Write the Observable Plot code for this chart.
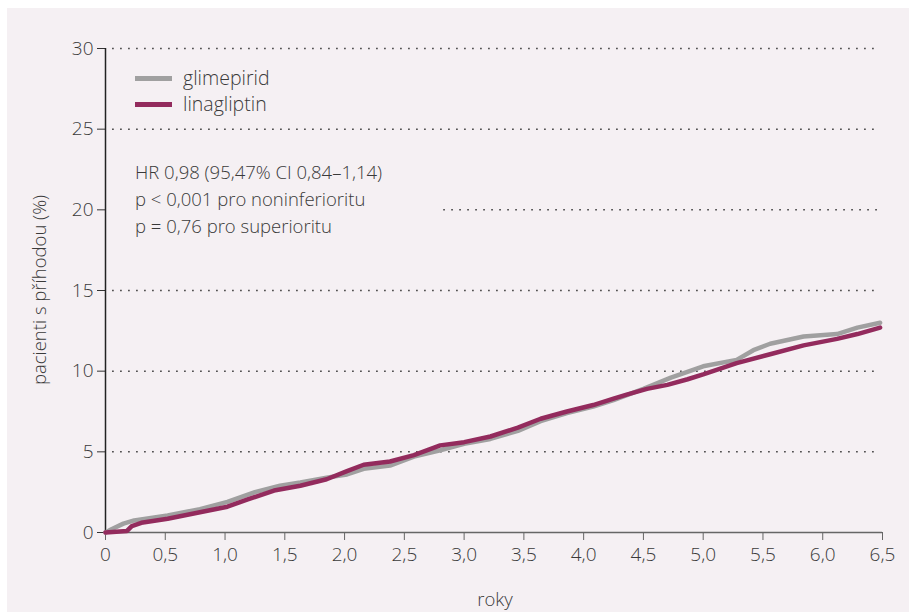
<!DOCTYPE html>
<html><head><meta charset="utf-8">
<script src="https://cdn.jsdelivr.net/npm/d3@7"></script>
<script src="https://cdn.jsdelivr.net/npm/@observablehq/plot@0.6"></script>
<style>
body{margin:0;background:#fff;font-family:"Open Sans",sans-serif;font-weight:300;color:#3a3a3a}
#wrap{position:relative;width:909px;height:612px;overflow:hidden}
#bg{position:absolute;left:7px;top:8px;right:0;bottom:0;background:#f5f0f3}
#chart{position:absolute;left:0;top:0}
.leg{position:absolute;left:135px;font-size:19.5px;line-height:26px;color:#3a3a3a}
.leg div{display:flex;align-items:center;height:26px}
.leg i{display:inline-block;width:37px;height:5px;margin-right:11px}
.ann{position:absolute;left:135px;top:158px;font-size:18.5px;line-height:27px;color:#3a3a3a}
.ylab{position:absolute;left:38px;top:290px;transform:translate(-50%,-50%) rotate(-90deg);font-size:18.5px;white-space:nowrap;color:#3a3a3a}
.xlab{position:absolute;left:495px;top:598px;transform:translate(-50%,-50%);font-size:18.5px;color:#3a3a3a}
</style></head>
<body>
<div id="wrap">
<div id="bg"></div>
<div id="chart"></div>
<div class="leg" style="top:65px">
 <div><i style="background:#a0a0a0"></i>glimepirid</div>
 <div><i style="background:#932b5d"></i>linagliptin</div>
</div>
<div class="ann">HR 0,98 (95,47% CI 0,84–1,14)<br>p &lt; 0,001 pro noninferioritu<br>p = 0,76 pro superioritu</div>
<div class="ylab">pacienti s příhodou (%)</div>
<div class="xlab">roky</div>
</div>
<script>
const xTicks = [0,0.5,1,1.5,2,2.5,3,3.5,4,4.5,5,5.5,6,6.5];
const yTicks = [0,5,10,15,20,25,30];
const gridY = [5,10,15,20,25,30];
const gridStart = [0.06,0.06,0.06,2.83,0.06,0.06];

const linaT = [0,0.18,0.22,0.3,0.52,0.79,1.02,1.19,1.41,1.63,1.85,2.02,2.16,2.38,2.58,2.8,3.0,3.22,3.45,3.64,3.86,4.08,4.25,4.36,4.53,4.7,4.87,5.0,5.28,5.56,5.84,6.12,6.29,6.48];
const linaV = [0,0.1,0.4,0.6,0.85,1.26,1.6,2.05,2.6,2.9,3.3,3.8,4.2,4.4,4.8,5.4,5.6,5.95,6.5,7.05,7.5,7.9,8.3,8.55,8.9,9.15,9.5,9.8,10.5,11.05,11.6,12.0,12.3,12.7];
const glimT = [0,0.05,0.15,0.24,0.52,0.79,1.02,1.25,1.46,1.63,1.85,2.02,2.16,2.38,2.58,2.8,3.0,3.22,3.45,3.64,3.86,4.08,4.25,4.5,4.73,5.0,5.28,5.42,5.56,5.84,6.12,6.29,6.48];
const glimV = [0,0.2,0.55,0.75,1.05,1.45,1.9,2.5,2.9,3.1,3.4,3.6,3.95,4.15,4.7,5.1,5.5,5.8,6.3,6.9,7.4,7.8,8.2,8.9,9.6,10.3,10.7,11.3,11.7,12.15,12.3,12.7,13.0];

const lina = linaT.map((t,i)=>({t, v: linaV[i]}));
const glim = glimT.map((t,i)=>({t, v: glimV[i]}));
const grid = gridY.map((v,i)=>({v, s: gridStart[i]}));

const fmt = d => d === 0 ? "0" : d.toFixed(1).replace(".", ",");

const chart = Plot.plot({
  width: 909, height: 612,
  marginLeft: 105, marginRight: 27, marginTop: 48, marginBottom: 80,
  style: {background: "transparent", fontFamily: "Open Sans, sans-serif", fontWeight: 300, fontSize: "19px", color: "#3a3a3a"},
  x: {domain: [0, 6.5]},
  y: {domain: [0, 30]},
  marks: [
    Plot.ruleY(grid, {y: "v", x1: "s", x2: 6.47, stroke: "#333", strokeWidth: 1.5, strokeDasharray: "1.5,6.5"}),
    Plot.axisY({ticks: yTicks, tickSize: 8, tickPadding: 4, label: null, stroke: "#333"}),
    Plot.axisX({ticks: xTicks, tickSize: 8, tickPadding: 7, tickFormat: fmt, label: null, stroke: "#666"}),
    Plot.ruleY([0], {stroke: "#666", strokeWidth: 1.5}),
    Plot.ruleX([0], {stroke: "#222", strokeWidth: 1.5}),
    Plot.line(glim, {x: "t", y: "v", stroke: "#a0a0a0", strokeWidth: 4.5}),
    Plot.line(lina, {x: "t", y: "v", stroke: "#932b5d", strokeWidth: 4.5})
  ]
});
document.getElementById("chart").appendChild(chart);
</script>
</body></html>
